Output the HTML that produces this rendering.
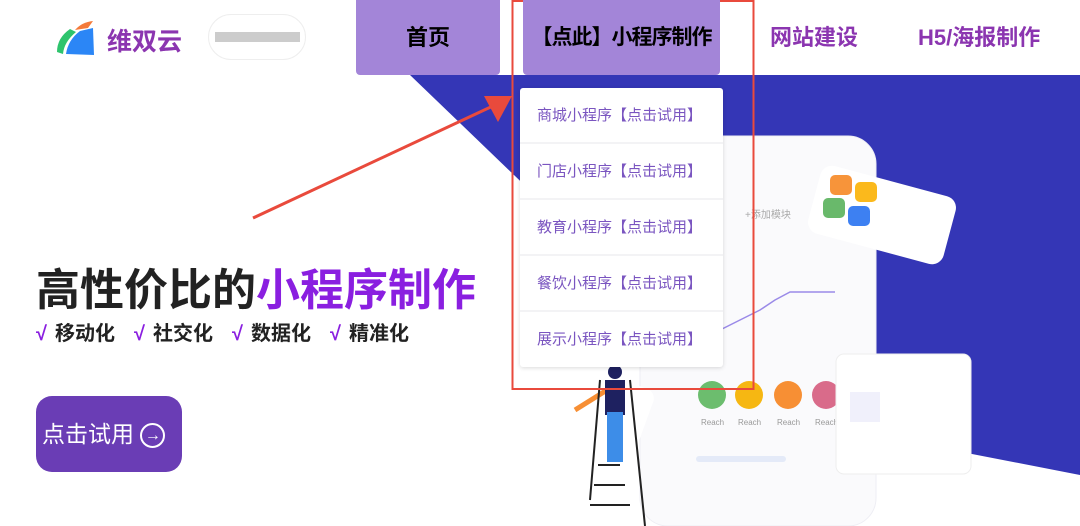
<!DOCTYPE html>
<html><head><meta charset="utf-8"><style>
*{margin:0;padding:0;box-sizing:border-box}
body{width:1080px;height:526px;overflow:hidden;background:#fff;position:relative;font-family:"Liberation Sans","Noto Sans CJK SC",sans-serif}
.a{position:absolute}
.nav{font-size:22px;font-weight:bold;line-height:75px;text-align:center;white-space:nowrap}
.dd div{height:56px;line-height:56px;padding-left:17px;font-size:15px;color:#7a55c0;border-bottom:2px solid #f3f3f5}
.b{position:absolute;top:317px;font-size:20px;font-weight:bold;color:#222;white-space:nowrap}
.b i{font-style:normal;color:#8a1fe0;margin-right:8px}
</style></head><body>
<svg class="a" style="left:0;top:0" width="1080" height="526">
<polygon points="410,75 1080,75 1080,475 900,440 700,380 540,200" fill="#3436b6"/>
<rect x="640" y="136" width="236" height="390" rx="28" fill="#fafafc" stroke="#eeeef4"/>
<rect x="812" y="180" width="140" height="70" rx="12" fill="#fff" transform="rotate(15 882 215)"/>
<rect x="830" y="175" width="22" height="20" rx="5" fill="#f7943a"/><rect x="855" y="182" width="22" height="20" rx="5" fill="#fbb91c"/>
<rect x="823" y="198" width="22" height="20" rx="5" fill="#69b96b"/><rect x="848" y="206" width="22" height="20" rx="5" fill="#3d80f2"/>
<text x="745" y="218" font-size="10" fill="#aaa">+添加模块</text>
<polyline points="700,330 720,330 740,320 760,310 775,300 790,292 810,292 835,292" fill="none" stroke="#9a8ae8" stroke-width="1.5"/>
<circle cx="712" cy="395" r="14" fill="#6cbd6e"/><circle cx="749" cy="395" r="14" fill="#f6b712"/><circle cx="788" cy="395" r="14" fill="#f78f34"/><circle cx="826" cy="395" r="14" fill="#d96b8a"/>
<g font-size="8" fill="#999"><text x="701" y="425">Reach</text><text x="738" y="425">Reach</text><text x="777" y="425">Reach</text><text x="815" y="425">Reach</text></g>
<rect x="696" y="456" width="90" height="6" rx="3" fill="#e4eaf8"/>
<rect x="836" y="354" width="135" height="120" rx="8" fill="#fff" stroke="#eee"/>
<rect x="850" y="392" width="30" height="30" fill="#f0f0fb"/>
<rect x="530" y="370" width="120" height="60" rx="10" fill="#fff" transform="rotate(20 590 400)"/>
<line x1="575" y1="410" x2="615" y2="385" stroke="#f78f34" stroke-width="5"/>
<path d="M600 380 L590 500 M630 380 L645 526" stroke="#222" stroke-width="2"/>
<g stroke="#222" stroke-width="2"><line x1="598" y1="465" x2="620" y2="465"/><line x1="594" y1="485" x2="625" y2="485"/><line x1="590" y1="505" x2="630" y2="505"/></g>
<rect x="605" y="380" width="20" height="35" fill="#1e2160"/>
<rect x="607" y="412" width="16" height="50" fill="#3d8de8"/>
<circle cx="615" cy="372" r="7" fill="#1e2160"/>
<line x1="253" y1="218" x2="495" y2="105" stroke="#e94a3c" stroke-width="3"/>
<polygon points="512,96 484,96 498,122" fill="#e94a3c"/>
<rect x="512.5" y="1" width="241" height="388" fill="none" stroke="#e94a3c" stroke-width="2"/>
<path d="M75 30 Q82 22 93 21 L88 28 Z" fill="#f47a3a"/>
<path d="M70 29 Q57 38 57 52 L63 54 Q64 42 76 32Z" fill="#2ec46d"/>
<path d="M80 31 L93 28 L94 55 L66 54 Q68 40 80 31Z" fill="#2b86f6"/>
</svg>
<div class="a" style="left:107px;top:22px;font-size:25px;font-weight:bold;color:#8b35b0">维双云</div>
<div class="a" style="left:208px;top:14px;width:98px;height:46px;border:1px solid #eee;border-radius:23px"></div>
<div class="a" style="left:215px;top:32px;width:85px;height:10px;background:#ccc"></div>
<div class="a nav" style="left:356px;top:0;width:144px;height:75px;background:#a385d8;border-radius:0 0 4px 4px">首页</div>
<div class="a nav" style="left:523px;top:0;width:197px;height:75px;background:#a385d8;border-radius:0 0 4px 4px;font-size:21px;letter-spacing:-1px">【点此】小程序制作</div>
<div class="a nav" style="left:770px;top:0;color:#8b35b0">网站建设</div>
<div class="a nav" style="left:918px;top:0;color:#8b35b0">H5/海报制作</div>
<div class="a dd" style="left:520px;top:88px;width:203px;height:279px;background:#fff;border-radius:3px;box-shadow:0 1px 4px rgba(0,0,0,.15)">
<div>商城小程序【点击试用】</div><div>门店小程序【点击试用】</div><div>教育小程序【点击试用】</div><div>餐饮小程序【点击试用】</div><div style="border:0">展示小程序【点击试用】</div>
</div>
<div class="a" style="left:36px;top:254px;font-size:44px;font-weight:bold;color:#222;white-space:nowrap">高性价比的<span style="color:#8a1fe0">小程序制作</span></div>
<div class="b" style="left:36px"><i>√</i>移动化</div>
<div class="b" style="left:134px"><i>√</i>社交化</div>
<div class="b" style="left:232px"><i>√</i>数据化</div>
<div class="b" style="left:330px"><i>√</i>精准化</div>
<div class="a" style="left:36px;top:396px;width:146px;height:76px;background:#6a3db5;border-radius:16px;color:#fff;font-size:23px;line-height:76px;padding-left:6px;white-space:nowrap">点击试用 <span style="display:inline-block;width:25px;height:25px;border:2px solid #fff;border-radius:50%;font-size:16px;line-height:21px;text-align:center;vertical-align:middle">→</span></div>
</body></html>
